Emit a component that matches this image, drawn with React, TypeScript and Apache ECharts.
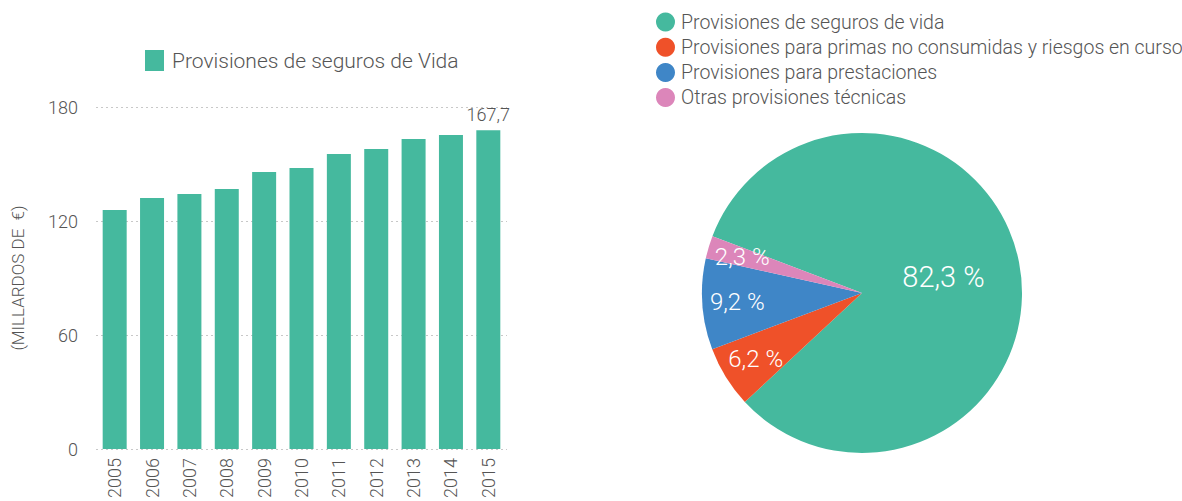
import React, { useEffect, useRef } from "react";
import * as echarts from "echarts";

const years = ["2005", "2006", "2007", "2008", "2009", "2010", "2011", "2012", "2013", "2014", "2015"];
const lifeProvisions = [125.8, 132.1, 134.2, 136.8, 145.8, 147.9, 155.3, 157.9, 163.2, 165.3, 167.7];
const yTicks = [0, 60, 120, 180];
const barSeriesName = "Provisiones de seguros de Vida";
const yAxisName = "(MILLARDOS DE  €)";

const pieNames = [
  "Provisiones de seguros de vida",
  "Provisiones para primas no consumidas y riesgos en curso",
  "Provisiones para prestaciones",
  "Otras provisiones técnicas",
];
const pieValues = [82.3, 6.2, 9.2, 2.3];
const pieColors = ["#45B99E", "#EF5129", "#3F86C7", "#DC86BA"];
const barColor = "#45B99E";

const FONT = "Roboto, 'Open Sans', sans-serif";
const TXT = "#555555";
const fmt = (v: number) => v.toFixed(1).replace(".", ",");

export default function App() {
  const ref = useRef<HTMLDivElement>(null);
  useEffect(() => {
    document.body.style.margin = "0";
    const chart = echarts.init(ref.current!, undefined, { renderer: "svg" });
    const pieData = pieNames.map((n, i) => ({ name: n, value: pieValues[i], itemStyle: { color: pieColors[i] } }));
    chart.setOption({
      animation: false,
      textStyle: { fontFamily: FONT },
      legend: [
        {
          data: [barSeriesName],
          left: 140,
          top: 45,
          icon: "rect",
          itemWidth: 19,
          itemHeight: 21,
          itemGap: 10,
          textStyle: { fontSize: 21, fontWeight: 300, color: TXT, fontFamily: FONT, padding: [0, 0, 0, 3] },
          selectedMode: false,
        },
        {
          data: pieNames,
          orient: "vertical",
          left: 651,
          top: 7,
          icon: "circle",
          itemWidth: 19,
          itemHeight: 19,
          itemGap: 5.2,
          textStyle: { fontSize: 19.5, fontWeight: 300, color: TXT, fontFamily: FONT, padding: [0, 0, 0, 1] },
          selectedMode: false,
        },
      ],
      grid: { left: 96, right: 675, top: 107, bottom: 52, containLabel: false },
      xAxis: {
        type: "category",
        data: years,
        axisLine: { show: false },
        axisTick: { show: false },
        axisLabel: { rotate: 90, margin: 9, fontSize: 18, fontWeight: 300, color: TXT, fontFamily: FONT },
      },
      yAxis: {
        type: "value",
        min: yTicks[0],
        max: yTicks[yTicks.length - 1],
        interval: 60,
        name: yAxisName,
        nameLocation: "middle",
        nameRotate: 90,
        nameGap: 70,
        nameTextStyle: { fontSize: 17, fontWeight: 300, color: TXT, fontFamily: FONT },
        axisLine: { show: false },
        axisTick: { show: false },
        axisLabel: { margin: 18, fontSize: 18, fontWeight: 300, color: TXT, fontFamily: FONT },
        splitLine: { lineStyle: { type: [2, 3], color: "#c8c8c8", width: 1 } },
      },
      series: [
        {
          name: barSeriesName,
          type: "bar",
          barWidth: 24,
          itemStyle: { color: barColor },
          data: lifeProvisions.map((v, i) => ({
            value: v,
            label: {
              show: i === lifeProvisions.length - 1,
              position: "top",
              distance: 7,
              formatter: (p: any) => fmt(p.value),
              fontSize: 18,
              fontWeight: 300,
              color: TXT,
              fontFamily: FONT,
            },
          })),
        },
        {
          name: "pie",
          type: "pie",
          center: [862, 293],
          radius: 160,
          startAngle: 159.2,
          clockwise: true,
          silent: true,
          itemStyle: { borderWidth: 0 },
          labelLine: { show: false },
          emphasis: { disabled: true },
          data: pieData.map((d, i) => ({
            ...d,
            label: {
              show: i === 0,
              position: "inside",
              formatter: (p: any) => fmt(p.value) + " %",
              fontSize: 29,
              fontWeight: 300,
              color: "#ffffff",
              fontFamily: FONT,
            },
          })),
        },
        {
          name: "pieLabels",
          type: "pie",
          center: [862, 293],
          radius: [0, 244],
          startAngle: 159.2,
          clockwise: true,
          silent: true,
          z: 5,
          itemStyle: { color: "transparent", borderWidth: 0 },
          labelLine: { show: false },
          emphasis: { disabled: true },
          legendHoverLink: false,
          data: pieData.map((d, i) => ({
            name: d.name,
            value: d.value,
            itemStyle: { color: "rgba(0,0,0,0)" },
            label: {
              show: i !== 0,
              position: "inside",
              formatter: (p: any) => fmt(p.value) + " %",
              fontSize: 24,
              fontWeight: 300,
              color: "#ffffff",
              fontFamily: FONT,
            },
          })),
        },
      ],
    });
    return () => chart.dispose();
  }, []);
  return <div ref={ref} style={{ width: 1182, height: 501 }} />;
}
